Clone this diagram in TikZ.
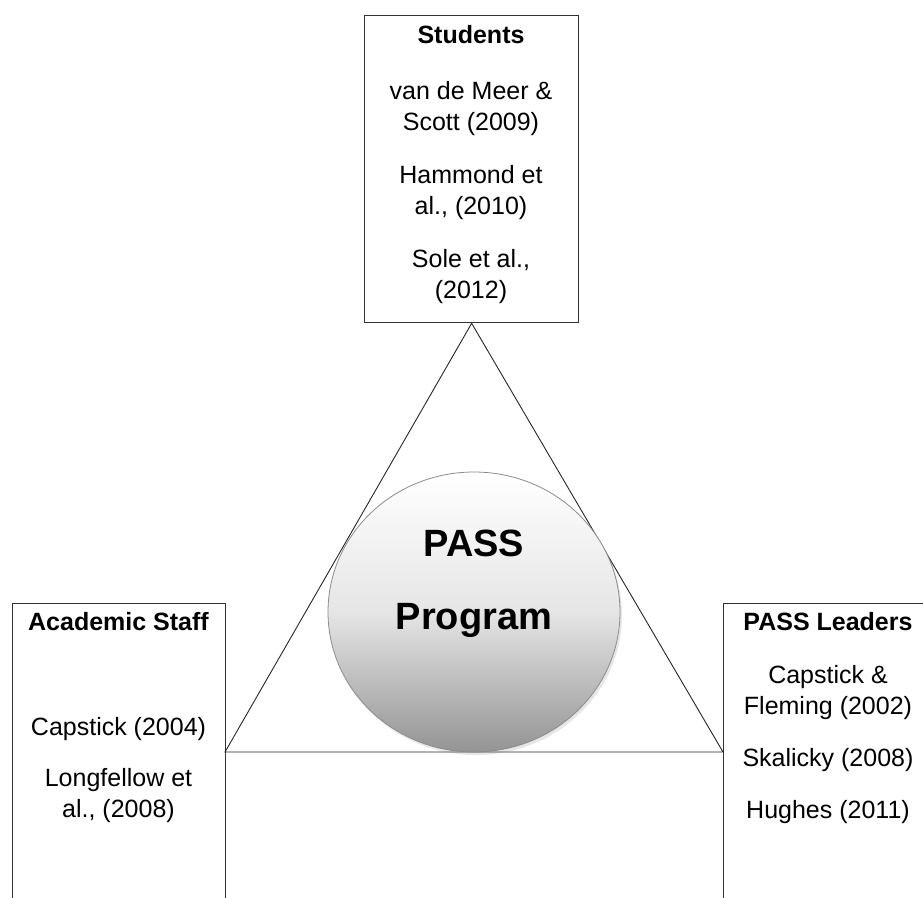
\documentclass[tikz,border=0pt]{standalone}
\usepackage{fontspec}
\setmainfont{Liberation Sans}
\usetikzlibrary{shapes.geometric, shadows, positioning}

\begin{document}
\begin{tikzpicture}[x=1pt, y=-1pt,
    box/.style={draw=black!80, line width=1.3pt, inner sep=0pt},
    reftext/.style={align=center, inner sep=0pt, anchor=north,
        font=\fontsize{25}{31}\selectfont},
    hub/.style={ellipse, draw=black!45, line width=0.8pt, inner sep=0pt,
        minimum width=292pt, minimum height=280pt,
        top color=white, bottom color=black!42, middle color=black!10,
        drop shadow={opacity=0.2, shadow xshift=2pt, shadow yshift=-3pt}},
    hubtext/.style={align=center, inner sep=0pt,
        font=\bfseries\fontsize{38}{73}\selectfont}]

\useasboundingbox (0,0) rectangle (923,897);
\clip (0,0) rectangle (923,897);

% Boxes, the lower two run off the page
\node[box, minimum width=214pt, minimum height=307pt, anchor=north west] (students) at (364,15) {};
\node[box, minimum width=213pt, minimum height=357pt, anchor=north west] (staff) at (12,603) {};
\node[box, minimum width=237pt, minimum height=357pt, anchor=north west] (leaders) at (723,603) {};

% Triangle between the three groups
\coordinate (baseL) at (225,752);
\coordinate (baseR) at (723,752);
\draw[black!85, line width=0.9pt] (students.south) -- (baseL) -- (baseR) -- cycle;

% Program in the middle
\node[hub] (pass) at (474,612) {};
\node[hubtext] (passtext) at (474,584) {PASS\\Program};

% Texts in the boxes
\node[reftext] (studentstext) at (471,25) {\textbf{Students}\\[25pt]
    van de Meer \&\\ Scott (2009)\\[22pt]
    Hammond et\\ al., (2010)\\[22pt]
    Sole et al.,\\ (2012)};
\node[reftext] (stafftext) at (118.5,612) {\textbf{Academic Staff}\\[74pt]
    Capstick (2004)\\[20pt]
    Longfellow et\\ al., (2008)};
\node[reftext] (leaderstext) at (828,612) {\textbf{PASS Leaders}\\[22pt]
    Capstick \&\\ Fleming (2002)\\[21pt]
    Skalicky (2008)\\[21pt]
    Hughes (2011)};

\end{tikzpicture}
\end{document}
